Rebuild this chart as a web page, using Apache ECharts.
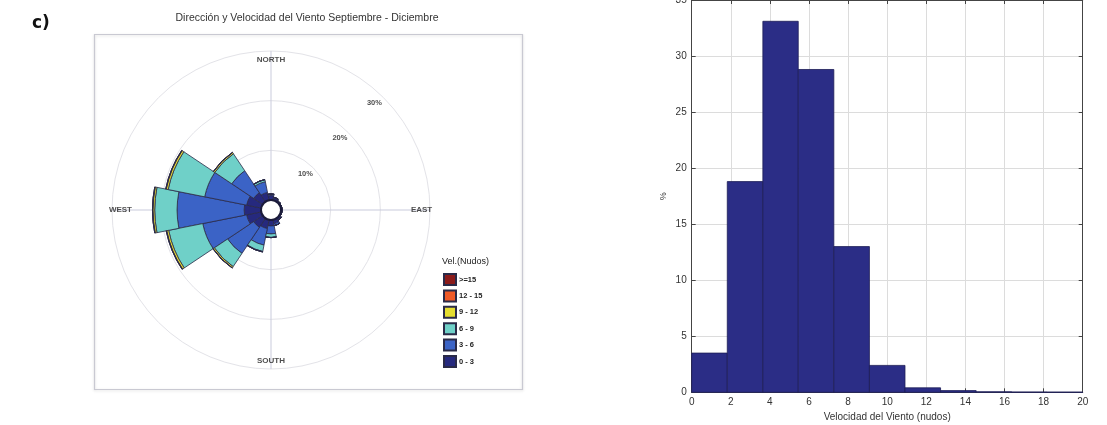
<!DOCTYPE html>
<html>
<head>
<meta charset="utf-8">
<script src="https://cdn.jsdelivr.net/npm/echarts@6/dist/echarts.min.js"></script>
<style>
html,body{margin:0;padding:0;background:#fff;}
#c{width:1107px;height:425px;}
</style>
</head>
<body>
<div id="c"></div>
<script>
// ---------- Wind rose data ----------
const directions = ['N','NNE','NE','ENE','E','ESE','SE','SSE','S','SSW','SW','WSW','W','WNW','NW','NNW'];
const speedClasses = ['0 - 3','3 - 6','6 - 9','9 - 12','12 - 15','>=15'];
const speedColors = ['#26297e','#3b63c6','#6fd0c8','#e4dc30','#ef5a28','#8b1b1b'];
// % frequency per direction, for each speed class
const v0_3   = [0.9, 0.5, 0.3, 0.2, 0.2, 0.2, 0.4, 0.8, 1.2, 1.8, 2.2, 3.0, 3.4, 3.0, 2.2, 1.6];
const v3_6   = [0.3, 0.1, 0.0, 0.0, 0.0, 0.0, 0.1, 0.4, 1.6, 3.4, 6.3, 9.0, 13.5, 8.6, 5.3, 2.2];
const v6_9   = [0.0, 0.0, 0.0, 0.0, 0.0, 0.0, 0.0, 0.0, 0.7, 1.3, 3.2, 7.0, 4.5, 7.5, 4.1, 0.4];
const v9_12  = [0.0, 0.0, 0.0, 0.0, 0.0, 0.0, 0.0, 0.0, 0.05, 0.1, 0.3, 0.4, 0.35, 0.4, 0.3, 0.05];
const v12_15 = [0.0, 0.0, 0.0, 0.0, 0.0, 0.0, 0.0, 0.0, 0.0, 0.0, 0.05, 0.1, 0.1, 0.1, 0.05, 0.0];
const v15    = [0.0, 0.0, 0.0, 0.0, 0.0, 0.0, 0.0, 0.0, 0.0, 0.0, 0.0, 0.0, 0.0, 0.0, 0.0, 0.0];
const roseSeriesValues = [v0_3, v3_6, v6_9, v9_12, v12_15, v15];
const ringValues = [10, 20, 30];
const compassNames = ['NORTH','EAST','SOUTH','WEST'];
const compassAngles = [0, 90, 180, 270];

// ---------- Histogram data ----------
const binEdges = [0, 1.82, 3.64, 5.45, 7.27, 9.09, 10.91, 12.73, 14.55, 16.36, 18.18, 20];
const binPercent = [3.5, 18.8, 33.1, 28.8, 13.0, 2.4, 0.4, 0.15, 0.05, 0.03, 0.02];

const chart = echarts.init(document.getElementById('c'), null, {renderer: 'canvas'});
const roseCenter = [271, 210];
const FONT = 'Liberation Sans, Arial, sans-serif';

const roseSeries = speedClasses.map((name, i) => ({
  type: 'bar',
  name: name,
  coordinateSystem: 'polar',
  polarIndex: 0,
  stack: 'rose',
  barCategoryGap: '0%',
  data: roseSeriesValues[i],
  itemStyle: {color: speedColors[i], borderColor: '#2a2a48', borderWidth: 0.8},
  silent: true,
  z: 3
}));

const histData = binPercent.map((v, i) => [binEdges[i], binEdges[i + 1], v]);

const option = {
  animation: false,
  backgroundColor: '#fff',
  title: [
    {text: 'c)', left: 27, top: 10, textStyle: {fontFamily: 'DejaVu Sans', fontWeight: 'bold', fontSize: 17, color: '#111'}},
    {text: 'Dirección y Velocidad del Viento Septiembre - Diciembre', left: 307, top: 13, textAlign: 'center', padding: 0,
     textStyle: {fontFamily: FONT, fontWeight: 'normal', fontSize: 10.5, color: '#333'}},
    {text: 'Vel.(Nudos)', left: 442, top: 257, padding: 0, textStyle: {fontFamily: FONT, fontWeight: 'normal', fontSize: 9, color: '#222'}}
  ],
  graphic: [
    {type: 'rect', left: 92, top: 32, shape: {width: 428, height: 355},
     style: {fill: 'none', stroke: '#c9c9d2', lineWidth: 1.2, shadowColor: 'rgba(0,0,0,0.15)', shadowBlur: 3, shadowOffsetX: 0, shadowOffsetY: 1}, z: 0}
  ],
  legend: {
    data: speedClasses.slice().reverse(),
    orient: 'vertical',
    left: 443,
    top: 273,
    padding: 0,
    itemWidth: 12,
    itemHeight: 11,
    itemGap: 3.4,
    icon: 'rect',
    selectedMode: false,
    textStyle: {fontFamily: FONT, fontSize: 7.5, fontWeight: 'bold', color: '#222', padding: [0, 0, 0, -2]}
  },
  polar: [
    {center: roseCenter, radius: [10, 159]},
    {center: roseCenter, radius: [10, 159]},
    {center: roseCenter, radius: [0, 10]}
  ],
  angleAxis: [
    {polarIndex: 0, type: 'category', data: directions, startAngle: 101.25, clockwise: true, boundaryGap: true,
     axisLine: {show: false}, axisTick: {show: false}, axisLabel: {show: false}, splitLine: {show: false}},
    {polarIndex: 1, type: 'value', min: 0, max: 360, interval: 90, startAngle: 90, clockwise: true,
     axisLine: {show: false}, axisTick: {show: false}, axisLabel: {show: false},
     splitLine: {show: true, lineStyle: {color: '#c9cbdc', width: 1}}, z: 1},
    {polarIndex: 2, type: 'value', min: 0, max: 360, startAngle: 90,
     axisLine: {show: true, lineStyle: {color: '#1b1b3a', width: 2}}, axisTick: {show: false}, axisLabel: {show: false}, splitLine: {show: false}, z: 10}
  ],
  radiusAxis: [
    {polarIndex: 0, type: 'value', min: 0, max: 30, interval: 10,
     axisLine: {show: false}, axisTick: {show: false}, axisLabel: {show: false},
     splitLine: {show: true, lineStyle: {color: '#e3e3e8', width: 1}}},
    {polarIndex: 1, type: 'value', min: 0, max: 30, show: false, splitLine: {show: false}},
    {polarIndex: 2, type: 'value', min: 0, max: 1, show: false, splitLine: {show: false}}
  ],
  grid: [{left: 691.7, right: 24.3, top: 0, bottom: 32.7, show: false, outerBoundsMode: 'none', containLabel: false}],
  xAxis: [
    {gridIndex: 0, type: 'value', min: 0, max: 20, interval: 2, position: 'bottom',
     name: 'Velocidad del Viento (nudos)', nameLocation: 'middle', nameGap: 20,
     nameTextStyle: {fontFamily: FONT, fontSize: 10, color: '#333'},
     axisLine: {show: true, onZero: false, lineStyle: {color: '#444', width: 1}},
     axisTick: {show: true, inside: true, length: 4, lineStyle: {color: '#444'}},
     axisLabel: {fontFamily: FONT, fontSize: 10, color: '#333', margin: 5, showMaxLabel: true, showMinLabel: true},
     splitLine: {show: true, lineStyle: {color: '#dcdcdc', width: 1}}},
    {gridIndex: 0, type: 'value', min: 0, max: 20, interval: 2, position: 'top',
     axisLine: {show: true, onZero: false, lineStyle: {color: '#444', width: 1}},
     axisTick: {show: true, inside: true, length: 4, lineStyle: {color: '#444'}},
     axisLabel: {show: false}, splitLine: {show: false}}
  ],
  yAxis: [
    {gridIndex: 0, type: 'value', min: 0, max: 35, interval: 5, position: 'left',
     name: '%', nameLocation: 'middle', nameGap: 24, nameRotate: 90,
     nameTextStyle: {fontFamily: FONT, fontSize: 9, color: '#333'},
     axisLine: {show: true, onZero: false, lineStyle: {color: '#444', width: 1}},
     axisTick: {show: true, inside: true, length: 4, lineStyle: {color: '#444'}},
     axisLabel: {fontFamily: FONT, fontSize: 10, color: '#333', margin: 5, showMaxLabel: true},
     splitLine: {show: true, lineStyle: {color: '#dcdcdc', width: 1}}},
    {gridIndex: 0, type: 'value', min: 0, max: 35, interval: 5, position: 'right',
     axisLine: {show: true, onZero: false, lineStyle: {color: '#444', width: 1}},
     axisTick: {show: true, inside: true, length: 4, lineStyle: {color: '#444'}},
     axisLabel: {show: false}, splitLine: {show: false}}
  ],
  series: [
    ...roseSeries,
    {
      type: 'scatter', coordinateSystem: 'polar', polarIndex: 1, silent: true,
      symbolSize: 0, z: 5,
      data: compassAngles.map((a, i) => ({value: [28.3, a], name: compassNames[i]})),
      label: {show: true, position: 'inside', formatter: p => p.name,
              fontFamily: FONT, fontSize: 8, fontWeight: 'bold', color: '#222'}
    },
    {
      type: 'scatter', coordinateSystem: 'polar', polarIndex: 1, silent: true,
      symbolSize: 0, z: 5,
      data: ringValues.map(r => [r, 44]),
      label: {show: true, position: 'inside', offset: [-7, 7], formatter: p => p.value[0] + '%',
              fontFamily: FONT, fontSize: 7.5, fontWeight: 'bold', color: '#222'}
    },
    {
      type: 'custom', xAxisIndex: 0, yAxisIndex: 0, silent: true, z: 3,
      data: histData,
      encode: {x: [0, 1], y: 2},
      renderItem: function (params, api) {
        const p0 = api.coord([api.value(0), api.value(2)]);
        const p1 = api.coord([api.value(1), 0]);
        return {
          type: 'rect',
          shape: {x: p0[0], y: p0[1], width: p1[0] - p0[0], height: p1[1] - p0[1]},
          style: {fill: '#2b2d86', stroke: '#1d1d55', lineWidth: 0.8}
        };
      }
    }
  ]
};
chart.setOption(option);
</script>
</body>
</html>
